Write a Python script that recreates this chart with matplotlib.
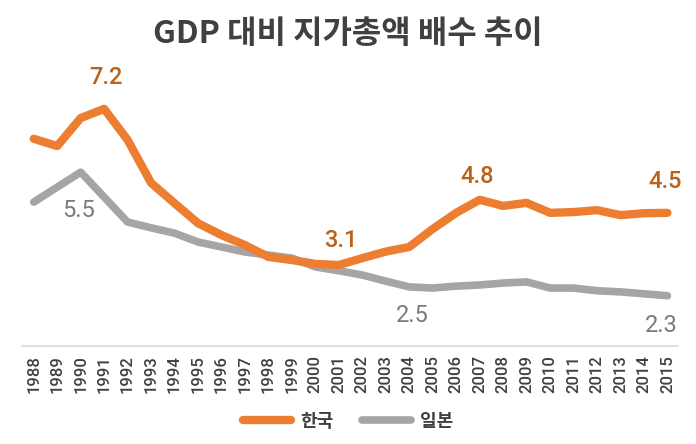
import matplotlib
matplotlib.use("Agg")
import matplotlib.pyplot as plt

plt.rcParams['font.family'] = ['Roboto', 'Noto Sans CJK KR', 'DejaVu Sans']

# GDP 대비 지가총액 배수
years = list(range(1988, 2016))
korea = [6.39, 6.20, 6.93, 7.17, 6.36, 5.24, 4.71, 4.19, 3.88, 3.62, 3.31, 3.23, 3.13, 3.10,
         3.28, 3.45, 3.57, 4.04, 4.46, 4.80, 4.64, 4.72, 4.46, 4.48, 4.53, 4.40, 4.45, 4.46]
japan = [4.74, 5.13, 5.52, 4.87, 4.22, 4.07, 3.93, 3.70, 3.57, 3.44, 3.36, 3.28, 3.05, 2.95,
         2.84, 2.68, 2.53, 2.50, 2.55, 2.58, 2.63, 2.66, 2.50, 2.50, 2.43, 2.40, 2.35, 2.30]

# 표시할 라벨: (연도, 텍스트, dx, dy) 픽셀 오프셋
korea_labels = [(1991, "7.2", 2, 31), (2001, "3.1", 2, 25), (2007, "4.8", -2, 23), (2015, "4.5", -2, 31)]
japan_labels = [(1990, "5.5", -2, -38), (2004, "2.5", 3, -29), (2015, "2.3", -6, -30)]

orange = "#ED7D31"
gray = "#A5A5A5"
text_dark = "#404040"

fig = plt.figure(figsize=(6.96, 4.44), dpi=100)
ax = fig.add_axes([0.0316, 0.2216, 0.9425, 0.605])

ax.plot(years, korea, color=orange, lw=6, solid_capstyle="round", solid_joinstyle="round", label="한국", zorder=3)
ax.plot(years, japan, color=gray, lw=5.5, solid_capstyle="round", solid_joinstyle="round", label="일본", zorder=2)

for yr, txt, dx, dy in korea_labels:
    ax.annotate(txt, (yr, korea[years.index(yr)]), xytext=(dx, dy), textcoords="offset pixels",
                ha="center", va="center", fontsize=17, color="#B8621B", fontweight="medium")
for yr, txt, dx, dy in japan_labels:
    ax.annotate(txt, (yr, japan[years.index(yr)]), xytext=(dx, dy), textcoords="offset pixels",
                ha="center", va="center", fontsize=17, color="#7A7A7A")

ax.set_xlim(1987.5, 2015.45)
ax.set_ylim(1.0, 8.0)
ax.set_xticks(years)
ax.set_xticklabels([str(y) for y in years], rotation=90, fontsize=12, color=text_dark, fontweight="medium")
ax.tick_params(axis="x", length=0, pad=7)
ax.set_yticks([])
for side in ["top", "left", "right"]:
    ax.spines[side].set_visible(False)
ax.spines["bottom"].set_color("#D9D9D9")
ax.spines["bottom"].set_linewidth(1.2)

fig.text(0.5, 1 - 34 / 444, "GDP 대비 지가총액 배수 추이", ha="center", va="center",
         fontsize=23, fontweight="bold", color=text_dark, family=["Noto Sans CJK KR", "DejaVu Sans"])

leg = fig.legend(loc="center", bbox_to_anchor=(0.5, 1 - 421 / 444), ncol=2, frameon=False,
                 handlelength=2.7, columnspacing=1.6, handletextpad=0.5,
                 prop={"family": ["Noto Sans CJK KR", "DejaVu Sans"], "size": 13, "weight": "bold"})
for t in leg.get_texts():
    t.set_color(text_dark)

fig.savefig("out.png", dpi=100)
